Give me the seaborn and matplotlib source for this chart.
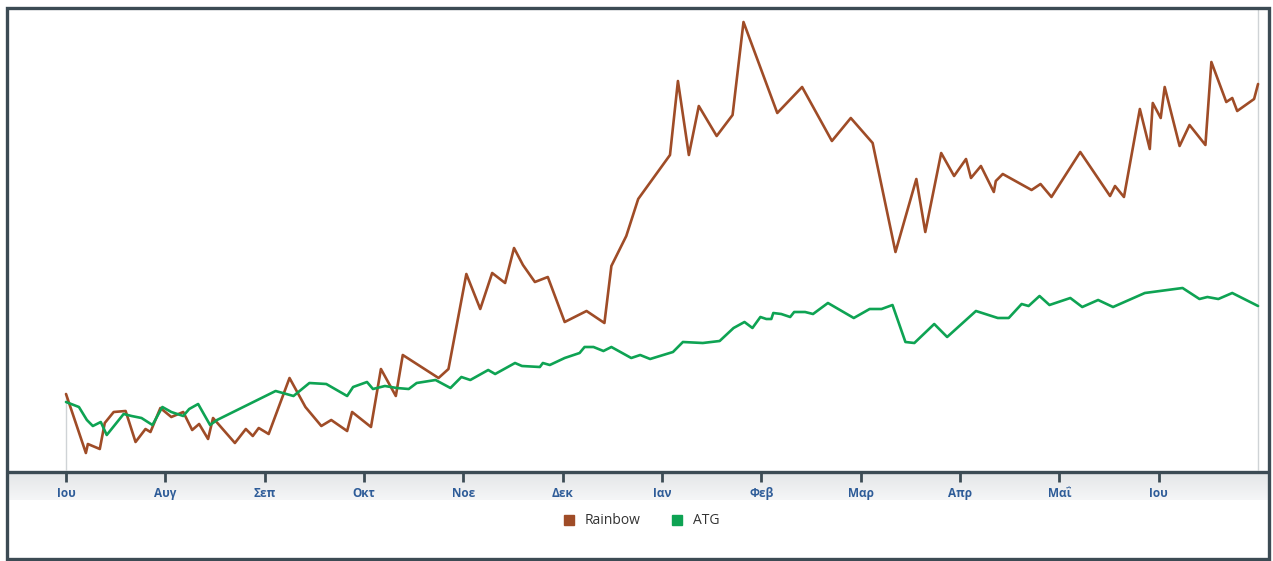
"""Rainbow vs ATG, ένας χρόνος (Ιούνιος - Ιούνιος)."""
import matplotlib
matplotlib.use("Agg")
import matplotlib.pyplot as plt
from matplotlib.lines import Line2D
from matplotlib.patches import Rectangle
import numpy as np
import pandas as pd
import seaborn as sns

# θέση στον άξονα σε μήνες από την 1η Ιουνίου
RAINBOW_X = [0, 0.20, 0.22, 0.34, 0.39, 0.48, 0.60, 0.70, 0.80, 0.85,
             0.95, 1.06, 1.18, 1.27, 1.34, 1.43, 1.48, 1.70, 1.81, 1.88,
             1.94, 2.04, 2.25, 2.41, 2.57, 2.67, 2.83, 2.88, 3.07, 3.17,
             3.32, 3.39, 3.75, 3.85, 4.03, 4.17, 4.29, 4.42, 4.51, 4.60,
             4.72, 4.85, 5.02, 5.24, 5.42, 5.49, 5.64, 5.76, 6.08, 6.16,
             6.27, 6.37, 6.55, 6.71, 6.82, 7.16, 7.41, 7.71, 7.90, 8.12,
             8.35, 8.56, 8.65, 8.81, 8.94, 9.06, 9.11, 9.21, 9.34, 9.36,
             9.43, 9.72, 9.81, 9.92, 10.21, 10.51, 10.56, 10.65, 10.81, 10.91,
             10.94, 11.02, 11.06, 11.21, 11.31, 11.47, 11.53, 11.68, 11.74, 11.79,
             11.96, 12.0]
RAINBOW_V = [76, 17, 26, 21, 47, 58, 59, 28, 41, 38,
             62, 53, 58, 40, 46, 31, 52, 27, 41, 34,
             42, 36, 92, 63, 44, 50, 39, 58, 43, 101,
             74, 115, 92, 101, 196, 161, 197, 187, 222, 205,
             188, 193, 148, 159, 147, 204, 234, 271, 315, 389,
             315, 364, 334, 355, 448, 357, 383, 329, 352, 327,
             218, 291, 238, 317, 294, 311, 292, 304, 278, 289,
             296, 280, 286, 273, 318, 274, 284, 273, 361, 321,
             367, 352, 383, 324, 345, 325, 408, 368, 372, 359,
             371, 386]

ATG_X = [0, 0.13, 0.21, 0.27, 0.35, 0.41, 0.58, 0.66, 0.76, 0.87,
         0.97, 1.06, 1.18, 1.24, 1.33, 1.45, 1.52, 2.11, 2.29, 2.45,
         2.62, 2.83, 2.89, 3.03, 3.09, 3.21, 3.33, 3.45, 3.53, 3.72,
         3.87, 3.98, 4.07, 4.25, 4.32, 4.52, 4.59, 4.77, 4.80, 4.87,
         5.02, 5.17, 5.22, 5.31, 5.41, 5.49, 5.69, 5.78, 5.88, 6.11,
         6.21, 6.41, 6.58, 6.72, 6.83, 6.91, 6.99, 7.05, 7.10, 7.12,
         7.20, 7.29, 7.33, 7.44, 7.52, 7.67, 7.93, 8.09, 8.21, 8.32,
         8.45, 8.54, 8.74, 8.87, 9.16, 9.38, 9.49, 9.62, 9.69, 9.80,
         9.90, 10.11, 10.23, 10.39, 10.54, 10.86, 11.24, 11.41, 11.49, 11.60,
         11.74, 12.0]
ATG_V = [68, 63, 50, 44, 48, 35, 56, 54, 52, 45,
         63, 58, 54, 61, 66, 45, 50, 79, 74, 87,
         86, 74, 83, 88, 81, 84, 82, 81, 87, 90,
         82, 93, 90, 100, 96, 107, 104, 103, 107, 105,
         112, 117, 123, 123, 119, 123, 112, 115, 111, 118,
         128, 127, 129, 142, 148, 142, 153, 151, 151, 157,
         156, 153, 158, 158, 156, 167, 152, 161, 161, 165,
         128, 127, 146, 133, 159, 152, 152, 166, 164, 174,
         165, 172, 163, 170, 163, 177, 182, 171, 173, 171,
         177, 164]

MONTHS = ["Ιου", "Αυγ", "Σεπ", "Οκτ", "Νοε", "Δεκ",
          "Ιαν", "Φεβ", "Μαρ", "Απρ", "Μαΐ", "Ιου"]

COLORS = {"Rainbow": "#9f4c27", "ATG": "#0ea353"}
FRAME = "#3c4b54"

df = pd.concat([
    pd.DataFrame({"x": RAINBOW_X, "v": RAINBOW_V, "series": "Rainbow"}),
    pd.DataFrame({"x": ATG_X, "v": ATG_V, "series": "ATG"}),
], ignore_index=True)

sns.set_theme(style="white")
plt.rcParams["font.family"] = ["Open Sans", "DejaVu Sans"]

W, H = 1273, 561
fig = plt.figure(figsize=(W / 100, H / 100), dpi=100)

# γκρι ζώνη κάτω από τον άξονα x
band = fig.add_axes([8 / W, 1 - 500 / H, 1260 / W, 28 / H], zorder=0)
grad = np.linspace(0, 1, 64).reshape(-1, 1)
band.imshow(grad, aspect="auto", cmap=matplotlib.colors.LinearSegmentedColormap.from_list(
    "g", ["#e3e5e7", "#f5f6f7"]), extent=[0, 1, 0, 1], origin="upper")
band.set_axis_off()

ax = fig.add_axes([8 / W, 1 - 472 / H, 1260 / W, (472 - 9) / H], zorder=1)
ax.patch.set_alpha(0)
sns.lineplot(data=df, x="x", y="v", hue="series", palette=COLORS,
             estimator=None, sort=False, linewidth=1.9, legend=False, ax=ax)

ax.set_xlim(-0.584, 12.10)
ax.set_ylim(-2, 461)
ax.vlines(RAINBOW_X[-1], 0, 461, color="#cfd3d6", linewidth=1, zorder=0)
ax.vlines(RAINBOW_X[0], 0, max(RAINBOW_V[0], ATG_V[0]), color="#cfd3d6",
          linewidth=1, zorder=0)

ax.set_xticks(range(len(MONTHS)))
ax.set_xticklabels(MONTHS)
ax.set_yticks([])
ax.set_xlabel("")
ax.set_ylabel("")
for s in ["top", "left", "right"]:
    ax.spines[s].set_visible(False)
ax.spines["bottom"].set_color(FRAME)
ax.spines["bottom"].set_linewidth(2.4)
ax.tick_params(axis="x", direction="out", length=7, width=2, color=FRAME,
               pad=4, labelsize=8.5, labelcolor="#2e5c98", bottom=True)
for lab in ax.get_xticklabels():
    lab.set_fontweight("bold")

handles = [Line2D([], [], linestyle="none", marker="s", markersize=7.5,
                  markerfacecolor=COLORS[k], markeredgecolor=COLORS[k], label=k)
           for k in ["Rainbow", "ATG"]]
fig.legend(handles=handles, loc="center", bbox_to_anchor=(637 / W, 1 - 521 / H),
           ncol=2, frameon=False, fontsize=10, handletextpad=0.15,
           columnspacing=1.6, labelcolor="#333333")

fig.patches.append(Rectangle((6.5 / W, 2.5 / H), 1262 / W, 550.5 / H,
                             transform=fig.transFigure, fill=False,
                             edgecolor=FRAME, linewidth=2.4, zorder=5))

fig.savefig("out.png", dpi=100)
